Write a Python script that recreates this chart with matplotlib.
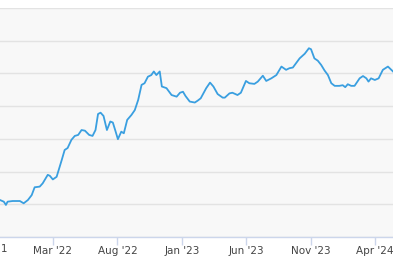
import numpy as np
import pandas as pd
import matplotlib
matplotlib.use('Agg')
import matplotlib.pyplot as plt
import matplotlib.dates as mdates

# Serie (fecha, valor)
fechas = [
    "2021-10-27", "2021-11-05", "2021-11-10", "2021-11-14", "2021-11-26", "2021-12-13",
    "2021-12-22", "2022-01-01", "2022-01-10", "2022-01-17", "2022-01-29", "2022-02-05",
    "2022-02-17", "2022-02-22", "2022-03-01", "2022-03-10", "2022-03-22", "2022-03-29",
    "2022-04-05", "2022-04-14", "2022-04-22", "2022-04-30", "2022-05-08", "2022-05-16",
    "2022-05-26", "2022-06-03", "2022-06-10", "2022-06-16", "2022-06-22", "2022-06-29",
    "2022-07-07", "2022-07-15", "2022-07-21", "2022-07-27", "2022-08-02", "2022-08-10",
    "2022-08-16", "2022-08-24", "2022-09-03", "2022-09-11", "2022-09-19", "2022-09-27",
    "2022-10-04", "2022-10-12", "2022-10-20", "2022-10-26", "2022-11-01", "2022-11-09",
    "2022-11-14", "2022-11-25", "2022-12-07", "2022-12-19", "2022-12-27", "2023-01-03",
    "2023-01-09", "2023-01-19", "2023-01-31", "2023-02-07", "2023-02-14", "2023-02-27",
    "2023-03-08", "2023-03-16", "2023-03-26", "2023-04-07", "2023-04-12", "2023-04-23",
    "2023-04-30", "2023-05-12", "2023-05-20", "2023-06-01", "2023-06-09", "2023-06-21",
    "2023-06-29", "2023-07-11", "2023-07-19", "2023-07-31", "2023-08-12", "2023-08-24",
    "2023-09-04", "2023-09-12", "2023-09-20", "2023-10-06", "2023-10-18", "2023-10-21",
    "2023-10-28", "2023-11-02", "2023-11-10", "2023-11-18", "2023-11-26", "2023-12-04",
    "2023-12-12", "2023-12-20", "2023-12-28", "2024-01-08", "2024-01-16", "2024-01-22",
    "2024-01-28", "2024-02-05", "2024-02-13", "2024-02-25", "2024-03-04", "2024-03-12",
    "2024-03-17", "2024-03-23", "2024-04-01", "2024-04-10", "2024-04-20", "2024-05-02",
    "2024-05-14",
]
valores = [
    11.3, 10.8, 9.8, 10.8, 11.0, 11.0,
    10.3, 11.3, 12.8, 15.2, 15.4, 16.4,
    19.0, 18.7, 17.6, 18.4, 23.5, 26.6,
    27.2, 29.7, 30.9, 31.2, 32.7, 32.5,
    31.2, 30.9, 32.7, 37.6, 38.0, 37.0,
    32.7, 35.3, 35.0, 32.5, 29.9, 32.2,
    31.7, 35.8, 37.3, 38.8, 41.9, 46.5,
    47.0, 49.0, 49.5, 50.6, 49.5, 50.6,
    46.0, 45.5, 43.4, 42.9, 44.1, 44.4,
    43.1, 41.4, 41.1, 41.7, 42.4, 45.5,
    47.2, 46.0, 43.7, 42.6, 42.6, 43.9,
    44.1, 43.4, 44.1, 47.7, 47.0, 46.8,
    47.5, 49.3, 47.7, 48.5, 49.5, 52.1,
    51.1, 51.6, 51.8, 54.6, 56.0, 56.5,
    57.7, 57.4, 54.6, 53.9, 52.6, 50.9,
    49.5, 47.0, 46.2, 46.2, 46.4, 45.8,
    46.7, 46.2, 46.2, 48.5, 49.2, 48.5,
    47.5, 48.5, 48.0, 48.5, 51.1, 52.1,
    50.6,
]
ticks_x = ["2021-10-01", "2022-03-01", "2022-08-01", "2023-01-01",
           "2023-06-01", "2023-11-01", "2024-04-01"]

fechas = pd.to_datetime(fechas)
ticks_x = pd.to_datetime(ticks_x)
x_ini, x_fin = pd.Timestamp("2021-10-27"), pd.Timestamp("2024-05-14")

fig = plt.figure(figsize=(3.93, 2.67), dpi=100)
ax = fig.add_axes([0, 30 / 267, 1, 229 / 267])
ax.set_facecolor('#f8f8f8')

ax.plot(fechas, valores, color='#3a9fe0', linewidth=1.3, zorder=3)

ax.set_yticks(np.arange(0, 71, 10))
ax.yaxis.grid(True, color='#e3e3e3', linewidth=1.0)
ax.set_axisbelow(True)
ax.tick_params(axis='y', left=False, labelleft=False)

ax.set_xticks(ticks_x)
ax.xaxis.set_major_formatter(mdates.DateFormatter("%b '%y"))
ax.tick_params(axis='x', length=6, width=1, color='#ccd6eb',
               labelsize=7.5, labelcolor='#444444', pad=0.5)

# limites despues de los ticks (set_xticks los amplia)
ax.set_xlim(x_ini, x_fin)
ax.set_ylim(0, 70)

# etiqueta del tick que queda fuera del rango (se ve cortada en el borde)
for t in ticks_x:
    if t < x_ini:
        ax.annotate(t.strftime("%b '%y"), xy=(t, 0), xycoords=('data', 'axes fraction'),
                    xytext=(0, -4.8), textcoords='offset points', ha='center', va='top',
                    fontsize=7.5, color='#444444', annotation_clip=False)

for s in ['left', 'right', 'top']:
    ax.spines[s].set_visible(False)
ax.spines['bottom'].set_color('#ccd6eb')
ax.spines['bottom'].set_linewidth(1)

fig.savefig('out.png', dpi=100)
